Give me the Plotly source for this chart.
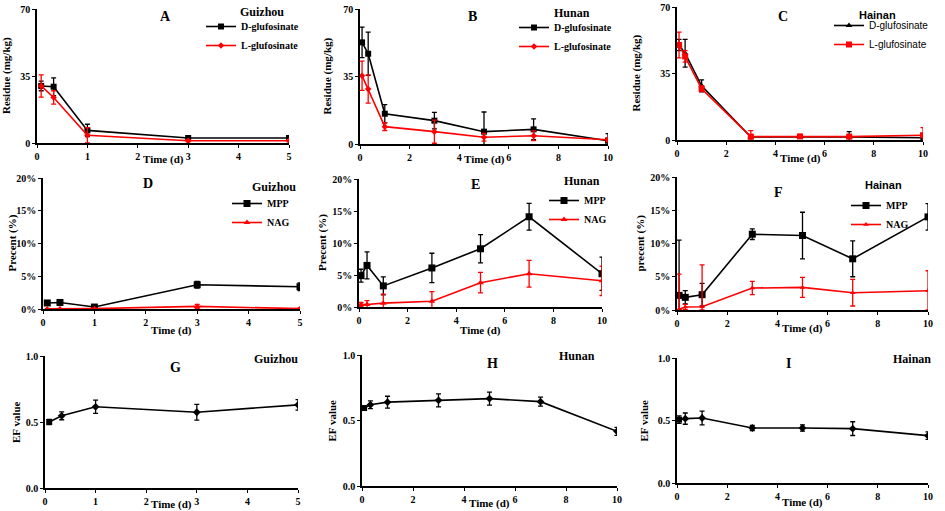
import plotly.graph_objects as go

W, H = 945, 511
SERIF = "Liberation Serif"
SANS = "Liberation Sans"

# sampling times (d)
t_gz = [0.083, 0.33, 1, 3, 5]
t_hun = [0.083, 0.33, 1, 3, 5, 7, 10]
t_hai = [0.083, 0.33, 1, 3, 5, 7, 10]

# residues (mg/kg)
gz_d = [29.8, 29.4, 6.6, 2.6, 2.6]
gz_d_err = [2.5, 4.6, 3.2, 1.2, 1.0]
gz_l = [29.8, 23.8, 4.0, 1.2, 1.2]
gz_l_err = [5.8, 3.5, 4.0, 0.6, 0.5]

hun_d = [52.7, 46.8, 15.7, 12.1, 6.4, 7.6, 1.7]
hun_d_err = [7.9, 11.2, 4.7, 4.3, 10.2, 5.4, 3.7]
hun_l = [35.4, 28.5, 9.0, 6.4, 3.5, 4.3, 2.2]
hun_l_err = [7.6, 7.3, 2.0, 6.0, 2.0, 2.5, 1.0]

hai_d = [50.0, 45.7, 28.5, 1.6, 1.6, 1.6, 1.2]
hai_d_err = [3.0, 7.3, 3.1, 1.0, 0.5, 2.8, 1.0]
hai_l = [50.0, 44.0, 27.0, 1.8, 1.9, 1.8, 2.5]
hai_l_err = [6.8, 3.0, 1.5, 3.1, 0.6, 1.0, 4.0]

# metabolites (%)
gz_mpp = [0.92, 1.0, 0.3, 3.7, 3.4]
gz_mpp_err = [0.3, 0.3, 0.2, 0.5, 0.6]
gz_nag = [0.02, 0.02, 0.05, 0.4, 0.05]
gz_nag_err = [0.05, 0.05, 0.05, 0.3, 0.1]

hun_mpp = [4.9, 6.5, 3.3, 6.1, 9.1, 14.1, 5.2]
hun_mpp_err = [1.0, 2.1, 1.4, 2.3, 2.2, 2.1, 2.6]
hun_nag = [0.4, 0.4, 0.6, 0.9, 3.8, 5.2, 4.1]
hun_nag_err = [0.3, 0.6, 1.4, 1.5, 1.6, 2.1, 2.3]

hai_mpp = [2.2, 1.9, 2.3, 11.4, 11.2, 7.7, 14.0]
hai_mpp_up = [8.3, 1.0, 1.7, 0.8, 3.5, 2.7, 2.0]
hai_mpp_dn = [2.2, 1.0, 1.7, 0.8, 3.5, 2.7, 2.0]
hai_nag = [0.1, 0.45, 0.5, 3.3, 3.4, 2.6, 2.9]
hai_nag_up = [5.3, 0.4, 6.3, 1.0, 1.5, 2.0, 3.0]
hai_nag_dn = [0.1, 0.4, 0.5, 1.0, 1.5, 2.0, 2.9]

# enantiomeric fraction
gz_ef = [0.50, 0.547, 0.615, 0.574, 0.63]
gz_ef_err = [0.02, 0.03, 0.05, 0.06, 0.04]
hun_ef = [0.595, 0.62, 0.64, 0.654, 0.667, 0.644, 0.417]
hun_ef_err = [0.015, 0.03, 0.045, 0.05, 0.05, 0.035, 0.03]
hai_ef = [0.507, 0.515, 0.52, 0.44, 0.44, 0.435, 0.379]
hai_ef_err = [0.03, 0.045, 0.055, 0.02, 0.025, 0.055, 0.03]

# panel boxes in pixels: left, right, top, bottom
boxes = [
    (37, 289, 9, 143), (360, 608, 9, 144), (677, 923, 7, 140),
    (43, 300, 178, 309), (359, 602, 179, 307), (677, 928, 177, 310),
    (45, 298, 356, 488), (362, 617, 355, 486), (677, 928, 358, 483),
]
letters = ["A", "B", "C", "D", "E", "F", "G", "H", "I"]
letter_pos = [(165, 17), (473, 16), (783, 16), (148, 183), (476, 185),
              (778, 193), (175, 367), (492, 363), (788, 363)]
regions = ["Guizhou", "Hunan", "Hainan"] * 3
region_pos = [(262, 12), (572, 13), (877, 15), (274, 187), (582, 181),
              (883, 185), (276, 359), (577, 356), (912, 359)]
ytitles = ["Residue (mg/kg)"] * 3 + ["Precent (%)", "Precent (%)", "precent (%)"] + ["EF value"] * 3
ytitle_x = [6, 327, 636, 12, 322, 640, 16, 331, 643]
xtitle_y = [159, 159, 158, 330, 330, 328, 504, 503, 502]
legend_pos = [(201, 12), (514, 13), (829, 11), (227, 189), (544, 186), (846, 191)]

fig = go.Figure()


def ax(i, kind):
    return kind if i == 0 else f"{kind}{i + 1}"


def series(i, x, y, up, name, color, symbol, dn=None, size=6, show=True):
    fig.add_trace(go.Scatter(
        x=x, y=y, name=name, mode="lines+markers",
        line=dict(color=color, width=1.6),
        marker=dict(color=color, symbol=symbol, size=size),
        error_y=dict(type="data", array=up, arrayminus=dn if dn else up,
                     symmetric=dn is None, color=color, thickness=1.3, width=2.5),
        xaxis=ax(i, "x"), yaxis=ax(i, "y"),
        legend=ax(i, "legend") if show else None, showlegend=show,
    ))


series(0, t_gz, gz_d, gz_d_err, "D-glufosinate", "black", "square")
series(0, t_gz, gz_l, gz_l_err, "L-glufosinate", "red", "diamond", size=5)
series(1, t_hun, hun_d, hun_d_err, "D-glufosinate", "black", "square")
series(1, t_hun, hun_l, hun_l_err, "L-glufosinate", "red", "diamond", size=5)
series(2, t_hai, hai_d, hai_d_err, "D-glufosinate", "black", "triangle-up")
series(2, t_hai, hai_l, hai_l_err, "L-glufosinate", "red", "square")
series(3, t_gz, gz_mpp, gz_mpp_err, "MPP", "black", "square", size=7)
series(3, t_gz, gz_nag, gz_nag_err, "NAG", "red", "triangle-up")
series(4, t_hun, hun_mpp, hun_mpp_err, "MPP", "black", "square", size=7)
series(4, t_hun, hun_nag, hun_nag_err, "NAG", "red", "triangle-up")
series(5, t_hai, hai_mpp, hai_mpp_up, "MPP", "black", "square", dn=hai_mpp_dn, size=7)
series(5, t_hai, hai_nag, hai_nag_up, "NAG", "red", "triangle-up", dn=hai_nag_dn, size=5)
sym_gz = ["square"] + ["diamond"] * (len(t_gz) - 1)
sym_hn = ["square"] + ["diamond"] * (len(t_hun) - 1)
series(6, t_gz, gz_ef, gz_ef_err, "EF", "black", sym_gz, show=False)
series(7, t_hun, hun_ef, hun_ef_err, "EF", "black", sym_hn, show=False)
series(8, t_hai, hai_ef, hai_ef_err, "EF", "black", sym_hn, show=False)

tickfont = dict(family=SERIF, size=10, color="black", weight="bold")
layout = dict(
    width=W, height=H, margin=dict(l=0, r=0, t=0, b=0, autoexpand=False),
    paper_bgcolor="white", plot_bgcolor="white",
)
xranges = [5, 10, 10] * 3
xdticks = [1, 2, 2] * 3
for i, (l, r, t, b) in enumerate(boxes):
    row = i // 3
    layout[ax(i, "xaxis")] = dict(
        domain=[l / W, r / W], range=[0, xranges[i]], dtick=xdticks[i],
        anchor=ax(i, "y"), showline=True, linecolor="black", linewidth=1.5,
        ticks="outside", ticklen=3, tickcolor="black", showgrid=False,
        zeroline=False, tickfont=tickfont,
    )
    ydict = dict(
        domain=[1 - b / H, 1 - t / H], anchor=ax(i, "x"), showline=True,
        linecolor="black", linewidth=1.5, ticks="outside", ticklen=3,
        tickcolor="black", showgrid=False, zeroline=False, tickfont=tickfont,
    )
    if row == 0:
        ydict.update(range=[0, 70], tickvals=[0, 35, 70])
    elif row == 1:
        ydict.update(range=[0, 20], dtick=5, ticksuffix="%")
    else:
        ydict.update(range=[0, 1], dtick=0.5, tickformat=".1f")
    layout[ax(i, "yaxis")] = ydict

for k, (lx, ly) in enumerate(legend_pos):
    fam = SANS if k == 2 else SERIF
    layout[ax(k, "legend")] = dict(
        x=lx / W, y=1 - ly / H, xanchor="left", yanchor="top",
        bgcolor="rgba(0,0,0,0)", itemwidth=30, tracegroupgap=0,
        font=dict(family=fam, size=10, color="black",
                  weight="normal" if k == 2 else "bold"),
    )


def label(text, x, y, size, family=SERIF, angle=0):
    return dict(text=text, x=x / W, y=1 - y / H, xref="paper", yref="paper",
                xanchor="center", yanchor="middle", showarrow=False, textangle=angle,
                font=dict(family=family, size=size, color="black", weight="bold"))


annotations = []
for i, (l, r, t, b) in enumerate(boxes):
    annotations.append(label(letters[i], *letter_pos[i], 14))
    fam = SANS if i in (2, 5) else SERIF
    annotations.append(label(regions[i], *region_pos[i], 11 if fam == SANS else 12, fam))
    annotations.append(label(ytitles[i], ytitle_x[i], (t + b) / 2, 11, angle=-90))
    annotations.append(label("Time (d)", (l + r) / 2, xtitle_y[i], 11))
layout["annotations"] = annotations

fig.update_layout(**layout)
fig.write_html("out.html", config={"displayModeBar": False},
               post_script="document.body.style.margin = '0';")
